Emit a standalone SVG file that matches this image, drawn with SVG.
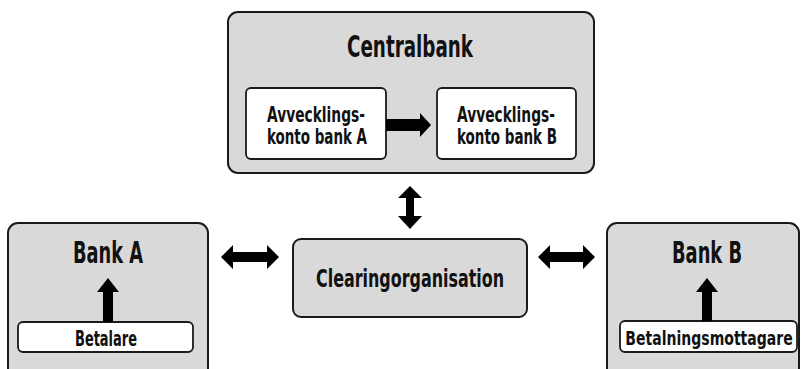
<svg xmlns="http://www.w3.org/2000/svg" width="801" height="369" viewBox="0 0 801 369">
  <style>
    .outer { fill: #d9d9d9; stroke: #1a1a1a; stroke-width: 2; }
    .inner { fill: #ffffff; stroke: #1a1a1a; stroke-width: 1.8; }
    .lbl { font-family: "DejaVu Sans", "Liberation Sans", sans-serif; font-stretch: condensed; font-weight: bold; fill: #111; text-anchor: middle; }
    .arrow { fill: #000; }
  </style>
  <rect width="801" height="369" fill="#ffffff"/>

  <g id="centralbank">
    <rect class="outer" x="228" y="12" width="366" height="161" rx="10"/>
    <text class="lbl" x="410" y="57" font-size="30" textLength="126" lengthAdjust="spacingAndGlyphs">Centralbank</text>
  </g>
  <g id="konto-a">
    <rect class="inner" x="246" y="88" width="140" height="71" rx="5"/>
    <text class="lbl" x="316" y="122" font-size="21" textLength="98" lengthAdjust="spacingAndGlyphs">Avvecklings-</text>
    <text class="lbl" x="317" y="144" font-size="21" textLength="100" lengthAdjust="spacingAndGlyphs">konto bank A</text>
  </g>
  <g id="konto-b">
    <rect class="inner" x="437" y="88" width="139" height="71" rx="5"/>
    <text class="lbl" x="506" y="122" font-size="21" textLength="98" lengthAdjust="spacingAndGlyphs">Avvecklings-</text>
    <text class="lbl" x="507" y="144" font-size="21" textLength="100" lengthAdjust="spacingAndGlyphs">konto bank B</text>
  </g>
  <g id="bank-a">
    <rect class="outer" x="8" y="223" width="200" height="160" rx="10"/>
    <text class="lbl" x="108" y="263" font-size="31" textLength="70" lengthAdjust="spacingAndGlyphs">Bank A</text>
  </g>
  <g id="betalare">
    <rect class="inner" x="18" y="322" width="175" height="30" rx="5"/>
    <text class="lbl" x="106" y="346" font-size="21" textLength="62" lengthAdjust="spacingAndGlyphs">Betalare</text>
  </g>
  <g id="clearing">
    <rect class="outer" x="293" y="239" width="234" height="78" rx="8"/>
    <text class="lbl" x="410" y="287" font-size="25" textLength="188" lengthAdjust="spacingAndGlyphs">Clearingorganisation</text>
  </g>
  <g id="bank-b">
    <rect class="outer" x="607" y="223" width="192" height="160" rx="10"/>
    <text class="lbl" x="707" y="263" font-size="31" textLength="70" lengthAdjust="spacingAndGlyphs">Bank B</text>
  </g>
  <g id="mottagare">
    <rect class="inner" x="620" y="321" width="177" height="31" rx="5"/>
    <!-- narrow face imitated by a horizontal squeeze -->
    <text class="lbl" transform="translate(709 345) scale(0.78 1)" x="0" y="0" font-size="20">Betalningsmottagare</text>
  </g>

  <g id="connectors">
    <!-- konto A to konto B -->
    <polygon class="arrow" points="386,119 420,119 420,113 431,125 420,137 420,131 386,131"/>
    <!-- centralbank to clearing -->
    <polygon class="arrow" points="410,186 422,198 414,198 414,216 422,216 410,229 398,216 406,216 406,198 398,198"/>
    <!-- bank A to clearing -->
    <polygon class="arrow" points="221,257 233,245 233,252 267,252 267,245 279,257 267,269 267,262 233,262 233,269"/>
    <!-- clearing to bank B -->
    <polygon class="arrow" points="538,257 550,245 550,252 583,252 583,245 595,257 583,269 583,262 550,262 550,269"/>
    <!-- betalare up to bank A -->
    <polygon class="arrow" points="108,278 119,292 113,292 113,322 103,322 103,292 97,292"/>
    <!-- mottagare up to bank B -->
    <polygon class="arrow" points="707,278 718,292 712,292 712,321 702,321 702,292 696,292"/>
  </g>
</svg>
